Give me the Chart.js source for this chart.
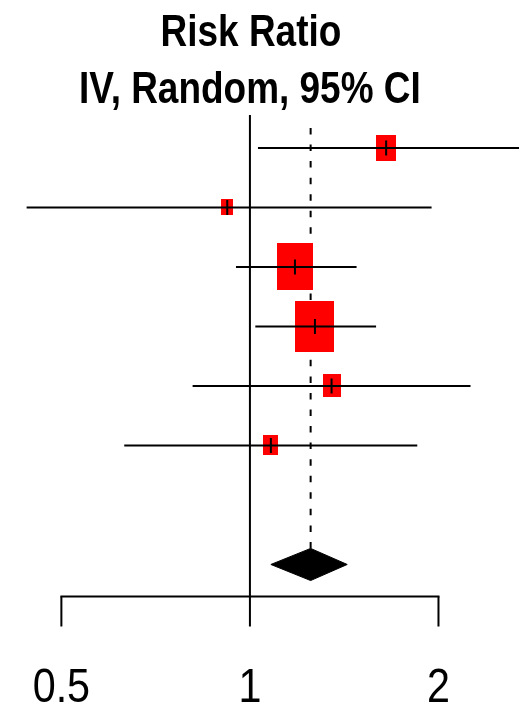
<!DOCTYPE html>
<html>
<head>
<meta charset="utf-8">
<title>Risk Ratio forest plot</title>
<script src="https://cdn.jsdelivr.net/npm/chart.js@4.4.1/dist/chart.umd.min.js"></script>
<style>
  html, body { margin: 0; padding: 0; background: #ffffff; }
  #wrap { width: 519px; height: 704px; position: relative; }
</style>
</head>
<body>
<div id="wrap"><canvas id="forest"></canvas></div>
<script>
// Per-study risk ratios (IV, random effects) with 95% confidence limits
const studyRR     = [1.65, 0.92, 1.18, 1.27, 1.35, 1.08];
const studyLower  = [1.03, 0.44, 0.95, 1.02, 0.81, 0.63];
const studyUpper  = [2.70, 1.95, 1.48, 1.59, 2.25, 1.85];
const studyWeight = [10.4, 3.5, 33.0, 38.7, 8.4, 6.0]; // % weight

// Pooled (random-effects) estimate
const pooledRR    = 1.25;
const pooledLower = 1.08;
const pooledUpper = 1.43;

// Bottom axis
const axisTicks      = [0.5, 1, 2];
const axisTickLabels = ['0.5', '1', '2'];

// Column heading
const titleLines = ['Risk Ratio', 'IV, Random, 95% CI'];

// ---- layout (row units on the y scale: one study per unit) ----
const POOLED_ROW    = studyRR.length + 1;
const AXIS_ROW      = 7.54;
const NULL_TOP      = -0.555;
const DASH_TOP      = -0.336;
const DIAMOND_HALF  = 0.27;
const BOX_SCALE     = 6.2;   // box width = BOX_SCALE * sqrt(weight)
const BOX_ASPECT    = 1.3;   // box height / width
const TICK_LEN      = 30;

function boxStyle(weight) {
  const bw = Math.round(BOX_SCALE * Math.sqrt(weight));
  const bh = Math.round(bw * BOX_ASPECT);
  const c = document.createElement('canvas');
  c.width = bw;
  c.height = bh;
  const g = c.getContext('2d');
  g.fillStyle = '#ff0000';
  g.fillRect(0, 0, bw, bh);
  return c;
}

const lineBase = {
  type: 'line',
  borderColor: '#000000',
  borderWidth: 2,
  pointRadius: 0,
  fill: false,
  tension: 0
};

const datasets = [];

// dashed line through the pooled estimate
datasets.push(Object.assign({}, lineBase, {
  order: 7,
  borderDash: [6.5, 10.06],
  data: [{ x: pooledRR, y: DASH_TOP }, { x: pooledRR, y: POOLED_ROW - DIAMOND_HALF }]
}));

// line of no effect
datasets.push(Object.assign({}, lineBase, {
  order: 6,
  data: [{ x: 1, y: NULL_TOP }, { x: 1, y: AXIS_ROW }]
}));

// weighted boxes
datasets.push({
  type: 'scatter',
  order: 5,
  showLine: false,
  pointStyle: studyWeight.map(boxStyle),
  pointRadius: 10,
  pointBorderWidth: 0,
  data: studyRR.map((r, i) => ({ x: r, y: i }))
});

// confidence intervals
studyRR.forEach((r, i) => {
  datasets.push(Object.assign({}, lineBase, {
    order: 4,
    data: [{ x: studyLower[i], y: i }, { x: studyUpper[i], y: i }]
  }));
});

// estimate markers
datasets.push({
  type: 'scatter',
  order: 3,
  showLine: false,
  pointStyle: 'line',
  rotation: 90,
  pointRadius: 7.5,
  pointBorderWidth: 2,
  pointBorderColor: '#000000',
  pointBackgroundColor: '#000000',
  data: studyRR.map((r, i) => ({ x: r, y: i }))
});

// pooled diamond
datasets.push(Object.assign({}, lineBase, {
  order: 2,
  borderWidth: 1,
  fill: 'shape',
  backgroundColor: '#000000',
  data: [
    { x: pooledLower, y: POOLED_ROW },
    { x: pooledRR,    y: POOLED_ROW - DIAMOND_HALF },
    { x: pooledUpper, y: POOLED_ROW },
    { x: pooledRR,    y: POOLED_ROW + DIAMOND_HALF },
    { x: pooledLower, y: POOLED_ROW }
  ]
}));

function drawSqueezed(ctx, text, x, y, sx) {
  ctx.save();
  ctx.translate(x, y);
  ctx.scale(sx, 1);
  ctx.fillText(text, 0, 0);
  ctx.restore();
}

// heading and bottom axis, placed with the chart's own scales
const forestFrame = {
  id: 'forestFrame',
  afterDatasetsDraw(chart) {
    const { ctx, scales: { x, y } } = chart;
    const yAxis = y.getPixelForValue(AXIS_ROW);
    ctx.save();
    ctx.strokeStyle = '#000000';
    ctx.lineWidth = 2;
    ctx.lineCap = 'square';
    ctx.beginPath();
    ctx.moveTo(x.getPixelForValue(axisTicks[0]), yAxis);
    ctx.lineTo(x.getPixelForValue(axisTicks[axisTicks.length - 1]), yAxis);
    ctx.stroke();
    ctx.lineCap = 'butt';
    ctx.beginPath();
    axisTicks.forEach(t => {
      const px = x.getPixelForValue(t);
      ctx.moveTo(px, yAxis);
      ctx.lineTo(px, yAxis + TICK_LEN);
    });
    ctx.stroke();

    ctx.fillStyle = '#000000';
    ctx.textAlign = 'center';
    ctx.textBaseline = 'alphabetic';
    ctx.font = '48px "Liberation Sans", Arial, sans-serif';
    axisTicks.forEach((t, i) => {
      drawSqueezed(ctx, axisTickLabels[i], x.getPixelForValue(t), 702, 0.86);
    });

    ctx.font = 'bold 44px "Liberation Sans", Arial, sans-serif';
    const cx = x.getPixelForValue(1);
    drawSqueezed(ctx, titleLines[0], cx + 1, 46, 0.84);
    drawSqueezed(ctx, titleLines[1], cx, 103, 0.84);
    ctx.restore();
  }
};

new Chart(document.getElementById('forest'), {
  type: 'scatter',
  data: { datasets },
  options: {
    responsive: true,
    maintainAspectRatio: false,
    devicePixelRatio: 1,
    animation: false,
    events: [],
    layout: { padding: 0, autoPadding: false },
    plugins: {
      legend: { display: false },
      tooltip: { enabled: false },
      title: { display: false }
    },
    scales: {
      x: {
        type: 'logarithmic',
        min: 0.399,
        max: 2.689,
        bounds: 'data',
        display: false
      },
      y: {
        type: 'linear',
        reverse: true,
        min: -2.487,
        max: 9.345,
        bounds: 'data',
        display: false
      }
    }
  },
  plugins: [forestFrame]
});
</script>
</body>
</html>
